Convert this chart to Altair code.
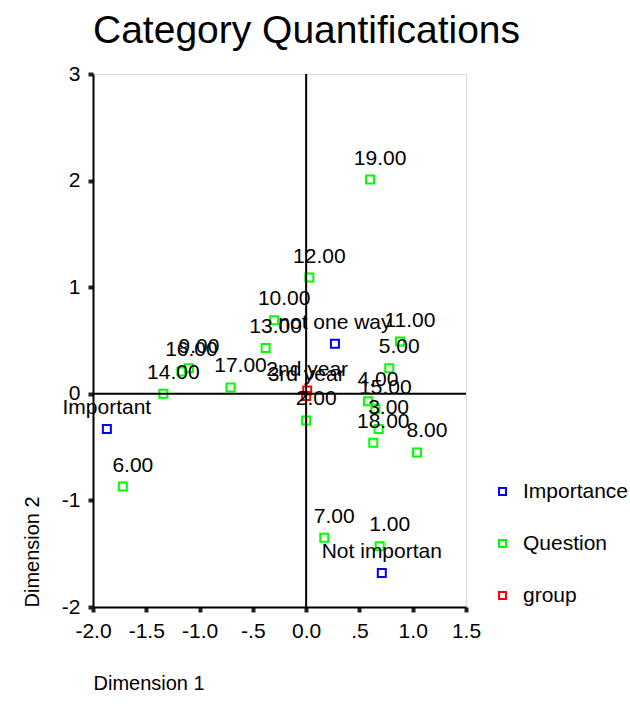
import altair as alt
import pandas as pd

# Series (variables) and their marker colours
series_names = ["Importance", "Question", "group"]
series_colors = ["#0000ff", "#00ff00", "#ff0000"]

# Category quantifications: Importance
importance_labels = ["Important", "not one way", "Not importan"]
importance_dim1 = [-1.87, 0.27, 0.71]
importance_dim2 = [-0.33, 0.47, -1.68]

# Category quantifications: Question
question_labels = ["1.00", "2.00", "3.00", "4.00", "5.00", "6.00", "7.00",
                   "8.00", "9.00", "10.00", "11.00", "12.00", "13.00",
                   "14.00", "15.00", "16.00", "17.00", "18.00", "19.00"]
question_dim1 = [0.69, 0.00, 0.68, 0.58, 0.78, -1.72, 0.17, 1.04, -1.10,
                 -0.30, 0.88, 0.03, -0.38, -1.34, 0.65, -1.17, -0.71, 0.63,
                 0.60]
question_dim2 = [-1.43, -0.25, -0.33, -0.07, 0.24, -0.87, -1.35, -0.55, 0.24,
                 0.69, 0.49, 1.09, 0.43, 0.00, -0.14, 0.21, 0.06, -0.46,
                 2.01]

# Category quantifications: group
group_labels = ["2nd year", "3rd year"]
group_dim1 = [0.01, 0.00]
group_dim2 = [0.03, -0.02]

# Axis ticks and their printed labels
x_ticks = [-2.0, -1.5, -1.0, -0.5, 0.0, 0.5, 1.0, 1.5]
x_tick_labels = ["-2.0", "-1.5", "-1.0", "-.5", "0.0", ".5", "1.0", "1.5"]
y_ticks = [-2, -1, 0, 1, 2, 3]
y_tick_labels = ["-2", "-1", "0", "1", "2", "3"]

FONT = "Liberation Sans"


def label_expr(values, labels):
    expr = "''"
    for v, lab in reversed(list(zip(values, labels))):
        expr = f"datum.value == {v} ? '{lab}' : ({expr})"
    return expr


rows = []
for name, labs, xs, ys in [
    ("Importance", importance_labels, importance_dim1, importance_dim2),
    ("Question", question_labels, question_dim1, question_dim2),
    ("group", group_labels, group_dim1, group_dim2),
]:
    for lab, xv, yv in zip(labs, xs, ys):
        rows.append({"series": name, "label": lab, "dim1": xv, "dim2": yv})
df = pd.DataFrame(rows)

x_enc = alt.X(
    "dim1:Q",
    scale=alt.Scale(domain=[-2, 1.5], nice=False, zero=False),
    axis=alt.Axis(
        values=x_ticks,
        labelExpr=label_expr(x_ticks, x_tick_labels),
        labelFont=FONT, labelFontSize=21, labelColor="black",
        labelPadding=8, labelFlush=False, labelOverlap=False,
        tickSize=5, tickWidth=4, tickColor="#222222",
        domainColor="black", domainWidth=2, grid=False,
        title="Dimension 1", titleFont=FONT, titleFontSize=20,
        titleFontWeight="normal", titleColor="black",
        titleX=0, titleY=82, titleAlign="left", titleBaseline="alphabetic",
    ),
)
y_enc = alt.Y(
    "dim2:Q",
    scale=alt.Scale(domain=[-2, 3], nice=False, zero=False),
    axis=alt.Axis(
        values=y_ticks,
        labelExpr=label_expr(y_ticks, y_tick_labels),
        labelFont=FONT, labelFontSize=21, labelColor="black",
        labelPadding=8, labelFlush=False, labelOverlap=False,
        tickSize=5, tickWidth=4, tickColor="#222222",
        domainColor="black", domainWidth=2, grid=False,
        title="Dimension 2", titleFont=FONT, titleFontSize=20,
        titleFontWeight="normal", titleColor="black",
        titleX=-55, titleY=533, titleAlign="left", titleBaseline="alphabetic",
    ),
)

base = alt.Chart(df)

points = base.mark_point(
    shape="square", filled=False, size=64, strokeWidth=2, opacity=1
).encode(
    x=x_enc,
    y=y_enc,
    color=alt.Color(
        "series:N",
        scale=alt.Scale(domain=series_names, range=series_colors),
        legend=alt.Legend(
            title=None, orient="none", legendX=399, legendY=407,
            symbolType="square", symbolSize=49, symbolStrokeWidth=2,
            labelFont=FONT, labelFontSize=21, labelColor="black",
            labelOffset=10, rowPadding=30, padding=0,
        ),
    ),
)

question_text = base.transform_filter(
    alt.datum.series == "Question"
).mark_text(
    font=FONT, fontSize=21, color="black", dx=10, dy=-21, baseline="middle"
).encode(x="dim1:Q", y="dim2:Q", text="label:N")

other_text = base.transform_filter(
    alt.datum.series != "Question"
).mark_text(
    font=FONT, fontSize=21, color="black", dx=0, dy=-21, baseline="middle"
).encode(x="dim1:Q", y="dim2:Q", text="label:N")

# Reference lines through the origin
origin = pd.DataFrame({"zero": [0.0]})
vline = alt.Chart(origin).mark_rule(color="black", strokeWidth=2).encode(x="zero:Q")
hline = alt.Chart(origin).mark_rule(color="black", strokeWidth=2).encode(y="zero:Q")

chart = alt.layer(points, question_text, other_text, vline, hline).properties(
    width=373,
    height=533,
    autosize=alt.AutoSizeParams(type="none"),
    padding={"left": 93, "top": 74, "right": 164, "bottom": 103},
    title=alt.TitleParams(
        "Category Quantifications", anchor="start", frame="group",
        font=FONT, fontSize=39, fontWeight="normal", color="black",
        baseline="alphabetic", offset=32, dy=51,
    ),
).configure_view(stroke="black", strokeWidth=2).configure(background="white")

chart.save("out.html", embed_options={"renderer": "svg", "actions": False})
